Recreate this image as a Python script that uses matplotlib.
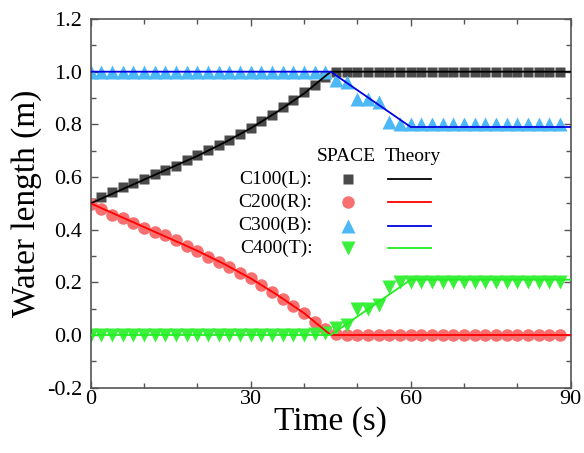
import numpy as np
import matplotlib
matplotlib.use("Agg")
import matplotlib.pyplot as plt

plt.rcParams["font.family"] = ["Liberation Serif", "DejaVu Serif"]
plt.rcParams["mathtext.fontset"] = "stix"

# SPACE results, sampled every 2 s
t_space = np.arange(0, 90, 2)

L_space = [0.50, 0.524, 0.543, 0.562, 0.577, 0.593, 0.610, 0.625, 0.641, 0.663,
           0.682, 0.701, 0.722, 0.742, 0.764, 0.787, 0.814, 0.837, 0.865, 0.893,
           0.922, 0.951, 0.978] + [1.0] * 22
R_space = [0.499, 0.480, 0.455, 0.446, 0.425, 0.408, 0.391, 0.379, 0.362, 0.337,
           0.319, 0.297, 0.277, 0.259, 0.236, 0.215, 0.189, 0.164, 0.136, 0.110,
           0.082, 0.050, 0.022, 0.005] + [0.0] * 21
B_space = [1.0] * 23 + [0.97, 0.96, 0.895, 0.895, 0.885, 0.81, 0.80] + [0.80] * 15
T_space = [0.0] * 21 + [0.004, 0.006, 0.025, 0.037, 0.10, 0.10, 0.113, 0.183, 0.20] + [0.20] * 15

# theory curves
t_theory = [0, 5, 10, 15, 20, 25, 30, 35, 40, 45, 60, 90]
L_theory = [0.50, 0.545, 0.59, 0.635, 0.68, 0.73, 0.785, 0.848, 0.917, 1.0, 1.0, 1.0]
R_theory = [0.50, 0.455, 0.41, 0.365, 0.32, 0.27, 0.215, 0.152, 0.083, 0.0, 0.0, 0.0]
B_theory = [1.0] * 10 + [0.79, 0.79]
T_theory = [0.0] * 10 + [0.21, 0.21]

labels = ["C100(L):", "C200(R):", "C300(B):", "C400(T):"]
space = [L_space, R_space, B_space, T_space]
theory = [L_theory, R_theory, B_theory, T_theory]
markers = ["s", "o", "^", "v"]
mcolors = ["#4a4a4a", "#f76f6f", "#4db8f6", "#3af03a"]
lcolors = ["#000000", "#ff0000", "#0000e0", "#22ee22"]
msizes = [7.5, 9, 9.5, 9.5]

fig = plt.figure(figsize=(5.84, 4.53), dpi=100)
ax = fig.add_axes([0.1553, 0.1442, 0.8219, 0.8138])

for ys, m, c, s in zip(space, markers, mcolors, msizes):
    ax.plot(t_space, ys, ls="none", marker=m, color=c, ms=s, mec="none", zorder=2)
for ys, c in zip(theory, lcolors):
    ax.plot(t_theory, ys, color=c, lw=1.3, zorder=3)

ax.set_xlim(0, 90)
ax.set_ylim(-0.2, 1.2)
ax.set_xticks([0, 30, 60, 90])
ax.set_xticks(np.arange(0, 91, 10), minor=True)
ax.set_yticks(np.arange(-0.2, 1.21, 0.2))
ax.set_yticks(np.arange(-0.2, 1.21, 0.1), minor=True)
ax.set_yticklabels([f"{v:.1f}" for v in np.arange(-0.2, 1.21, 0.2)])
ax.tick_params(which="both", direction="in", top=True, right=True,
               color="#555555", width=1.0, labelsize=16)
ax.tick_params(which="major", length=5)
ax.tick_params(which="minor", length=3.3)
ax.tick_params(axis="x", pad=2)
ax.tick_params(axis="y", pad=6)
for sp in ax.spines.values():
    sp.set_color("#555555")
    sp.set_linewidth(1.2)

ax.set_xlabel("Time (s)", fontsize=24, labelpad=-2)
ax.set_ylabel("Water length (m)", fontsize=24, labelpad=4)

# custom legend table
tr = ax.transAxes
ax.text(0.533, 0.628, "SPACE", transform=tr, ha="center", va="center", fontsize=14)
ax.text(0.671, 0.628, "Theory", transform=tr, ha="center", va="center", fontsize=14)
rows_y = [0.565, 0.503, 0.439, 0.378]
for yy, lab, m, mc, lc, s in zip(rows_y, labels, markers, mcolors, lcolors, msizes):
    ax.text(0.462, yy, lab, transform=tr, ha="right", va="center", fontsize=14)
    ax.plot([0.537], [yy], transform=tr, ls="none", marker=m, color=mc,
            ms=s, mec="none", clip_on=False)
    ax.plot([0.620, 0.708], [yy, yy], transform=tr, color=lc, lw=1.3)

fig.savefig("out.png", dpi=100)
